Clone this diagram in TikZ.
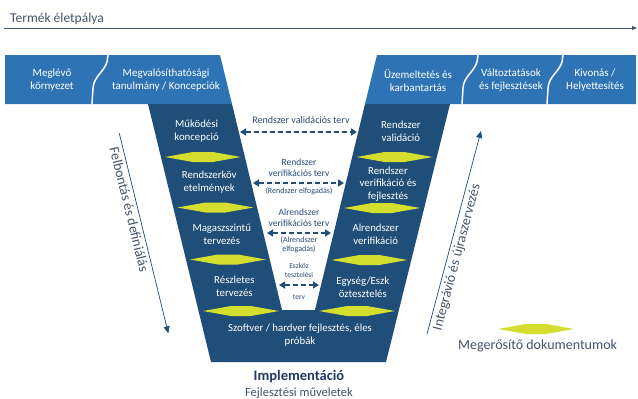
\documentclass[tikz,border=0pt]{standalone}
\usepackage{fontspec}
\setmainfont{Carlito}
\usetikzlibrary{arrows.meta}
\definecolor{bandblue}{HTML}{2E74B5}
\definecolor{vnavy}{HTML}{1F4E79}
\definecolor{docgreen}{HTML}{D4DE2F}
\definecolor{slate}{HTML}{44546A}
\definecolor{labelnavy}{HTML}{2A4A7A}
\definecolor{implnavy}{HTML}{1F3864}
\begin{document}
\begin{tikzpicture}[x=1pt,y=-1pt,
  wtext/.style={text=white, align=center, font=\fontsize{10.8}{12.8}\selectfont, inner sep=0pt},
  btext/.style={text=white, align=center, font=\fontsize{11}{13}\selectfont, inner sep=0pt},
  lbl/.style={text=labelnavy, align=center, font=\fontsize{9.5}{11}\selectfont, inner sep=0pt},
  lblsmall/.style={text=labelnavy, align=center, font=\fontsize{8}{9.5}\selectfont, inner sep=0pt},
  lbltiny/.style={text=labelnavy, align=center, font=\fontsize{7.5}{9}\selectfont, inner sep=0pt},
  darr/.style={vnavy, line width=1.8pt, dash pattern=on 5pt off 3pt,
    {Triangle[length=6pt,width=7pt]}-{Triangle[length=6pt,width=7pt]}},
  diagarr/.style={vnavy, line width=0.7pt, -{Triangle[length=7pt,width=6pt]}},
  diagtext/.style={text=slate, font=\fontsize{14}{16}\selectfont, inner sep=3pt, sloped},
  sep/.style={white, line width=1.5pt},
  docdiamond/.pic={\fill[docgreen] (-38,0) -- (-10,-5) -- (10,-5) -- (38,0) -- (10,5) -- (-10,5) -- cycle;}
]
\useasboundingbox (0,0) rectangle (638,399);
\fill[white] (0,0) rectangle (638,399);

% title and lifecycle arrow
\node[anchor=base west, text=slate, font=\fontsize{13.5}{15}\selectfont, inner sep=0pt] (title) at (10,22.5) {Termék életpálya};
\coordinate (lifeS) at (4,28);
\coordinate (lifeE) at (637,28);
\draw[slate, line width=0.8pt, -{Triangle[length=5pt,width=4pt]}] (lifeS) -- (lifeE);

% bands
\fill[bandblue] (5,55) -- (220,55) -- (232,104) -- (5,104) -- cycle;
\fill[bandblue] (377,55) -- (636,55) -- (636,104) -- (365,104) -- cycle;
\draw[sep] (108,55) -- (107,62) .. controls (104,72) and (94,76) .. (93,88) -- (92,104);
\draw[sep] (478,55) -- (477,62) .. controls (474,72) and (464,76) .. (463,88) -- (462,104);
\draw[sep] (563,55) -- (562,62) .. controls (559,72) and (549,76) .. (548,88) -- (547,104);

\node[btext] (meglevo) at (52,80.5) {Meglévő\\környezet};
\node[btext] (megval) at (166,80.5) {Megvalósíthatósági\\tanulmány / Koncepciók};
\node[btext] (uzem) at (418,80.5) {Üzemeltetés és\\karbantartás};
\node[btext] (valt) at (511,80.5) {Változtatások\\és fejlesztések};
\node[btext] (kivon) at (595,80.5) {Kivonás /\\Helyettesítés};

% V shape
\fill[vnavy] (148,104) -- (211,362) -- (386,362) -- (450,104) -- (365,104)
  -- (315,310) -- (282,310) -- (232,104) -- cycle;

% left arm
\node[wtext] (mukodesi) at (196.6,131) {Működési\\koncepció};
\node[wtext] (rkov) at (209.2,182.5) {Rendszerköv\\etelmények};
\node[wtext] (magas) at (221.8,234.5) {Magaszszintű\\tervezés};
\node[wtext] (reszl) at (234.4,286) {Részletes\\tervezés};
% right arm
\node[wtext] (rval) at (400.9,131) {Rendszer\\validáció};
\node[wtext] (rver) at (388.0,184) {Rendszer\\verifikáció és\\fejlesztés};
\node[wtext] (alver) at (375.7,234.5) {Alrendszer\\verifikáció};
\node[wtext] (egyseg) at (362.8,287) {Egység/Eszk\\öztesztelés};
% bottom
\node[wtext] (szoftver) at (300,335) {Szoftver / hardver fejlesztés, éles\\próbák};

% diamonds
\pic at (202.9,157) {docdiamond};
\pic at (215.5,207.5) {docdiamond};
\pic at (227.9,259.5) {docdiamond};
\pic at (241,311) {docdiamond};
\pic at (394.6,157) {docdiamond};
\pic at (382.1,208) {docdiamond};
\pic at (369.4,260) {docdiamond};
\pic at (357,311) {docdiamond};

% middle labels and dashed arrows
\node[lbl, font=\fontsize{10}{11}\selectfont] (lA) at (301,120) {Rendszer validációs terv};
\coordinate (a1l) at (240,132); \coordinate (a1r) at (357,132);
\draw[darr] (a1l) -- (a1r);

\node[lbl] (lB) at (299,167.5) {Rendszer\\verifikációs terv};
\coordinate (a2l) at (253,183); \coordinate (a2r) at (344,183);
\draw[darr] (a2l) -- (a2r);
\node[lblsmall] (lB2) at (299,191) {(Rendszer elfogadás)};

\node[lbl] (lC) at (299,217.5) {Alrendszer\\verifikációs terv};
\coordinate (a3l) at (267,233); \coordinate (a3r) at (331,233);
\draw[darr] (a3l) -- (a3r);
\node[lblsmall] (lC2) at (299,245) {(Alrendszer\\elfogadás)};

\node[lbltiny] (lD) at (299,270.5) {Eszköz\\tesztelési};
\coordinate (a4l) at (279,285); \coordinate (a4r) at (319,285);
\draw[darr] (a4l) -- (a4r);
\node[lbltiny] (lD2) at (299,297) {terv};

% diagonal arrows
\coordinate (felS) at (119.3,133.3);
\coordinate (felE) at (168.3,333.3);
\draw[diagarr] (felS) -- node[diagtext, pos=0.37, below] (feltext) {Felbontás és definiálás} (felE);
\coordinate (intS) at (427,334);
\coordinate (intE) at (481,131);
\draw[diagarr] (intS) -- node[diagtext, pos=0.39, below] (inttext) {Integrávió és újraszervezés} (intE);

% legend
\pic at (536,329) {docdiamond};
\node[anchor=base west, text=slate, font=\fontsize{14}{16}\selectfont, inner sep=0pt] (legend) at (458,349.5) {Megerősítő dokumentumok};

% bottom captions
\node[anchor=base, text=implnavy, font=\bfseries\fontsize{14.5}{16}\selectfont, inner sep=0pt] (impl) at (299,380) {Implementáció};
\node[anchor=base, text=slate, font=\fontsize{12.5}{14}\selectfont, inner sep=0pt] (fejl) at (299,396.5) {Fejlesztési műveletek};
\end{tikzpicture}
\end{document}
